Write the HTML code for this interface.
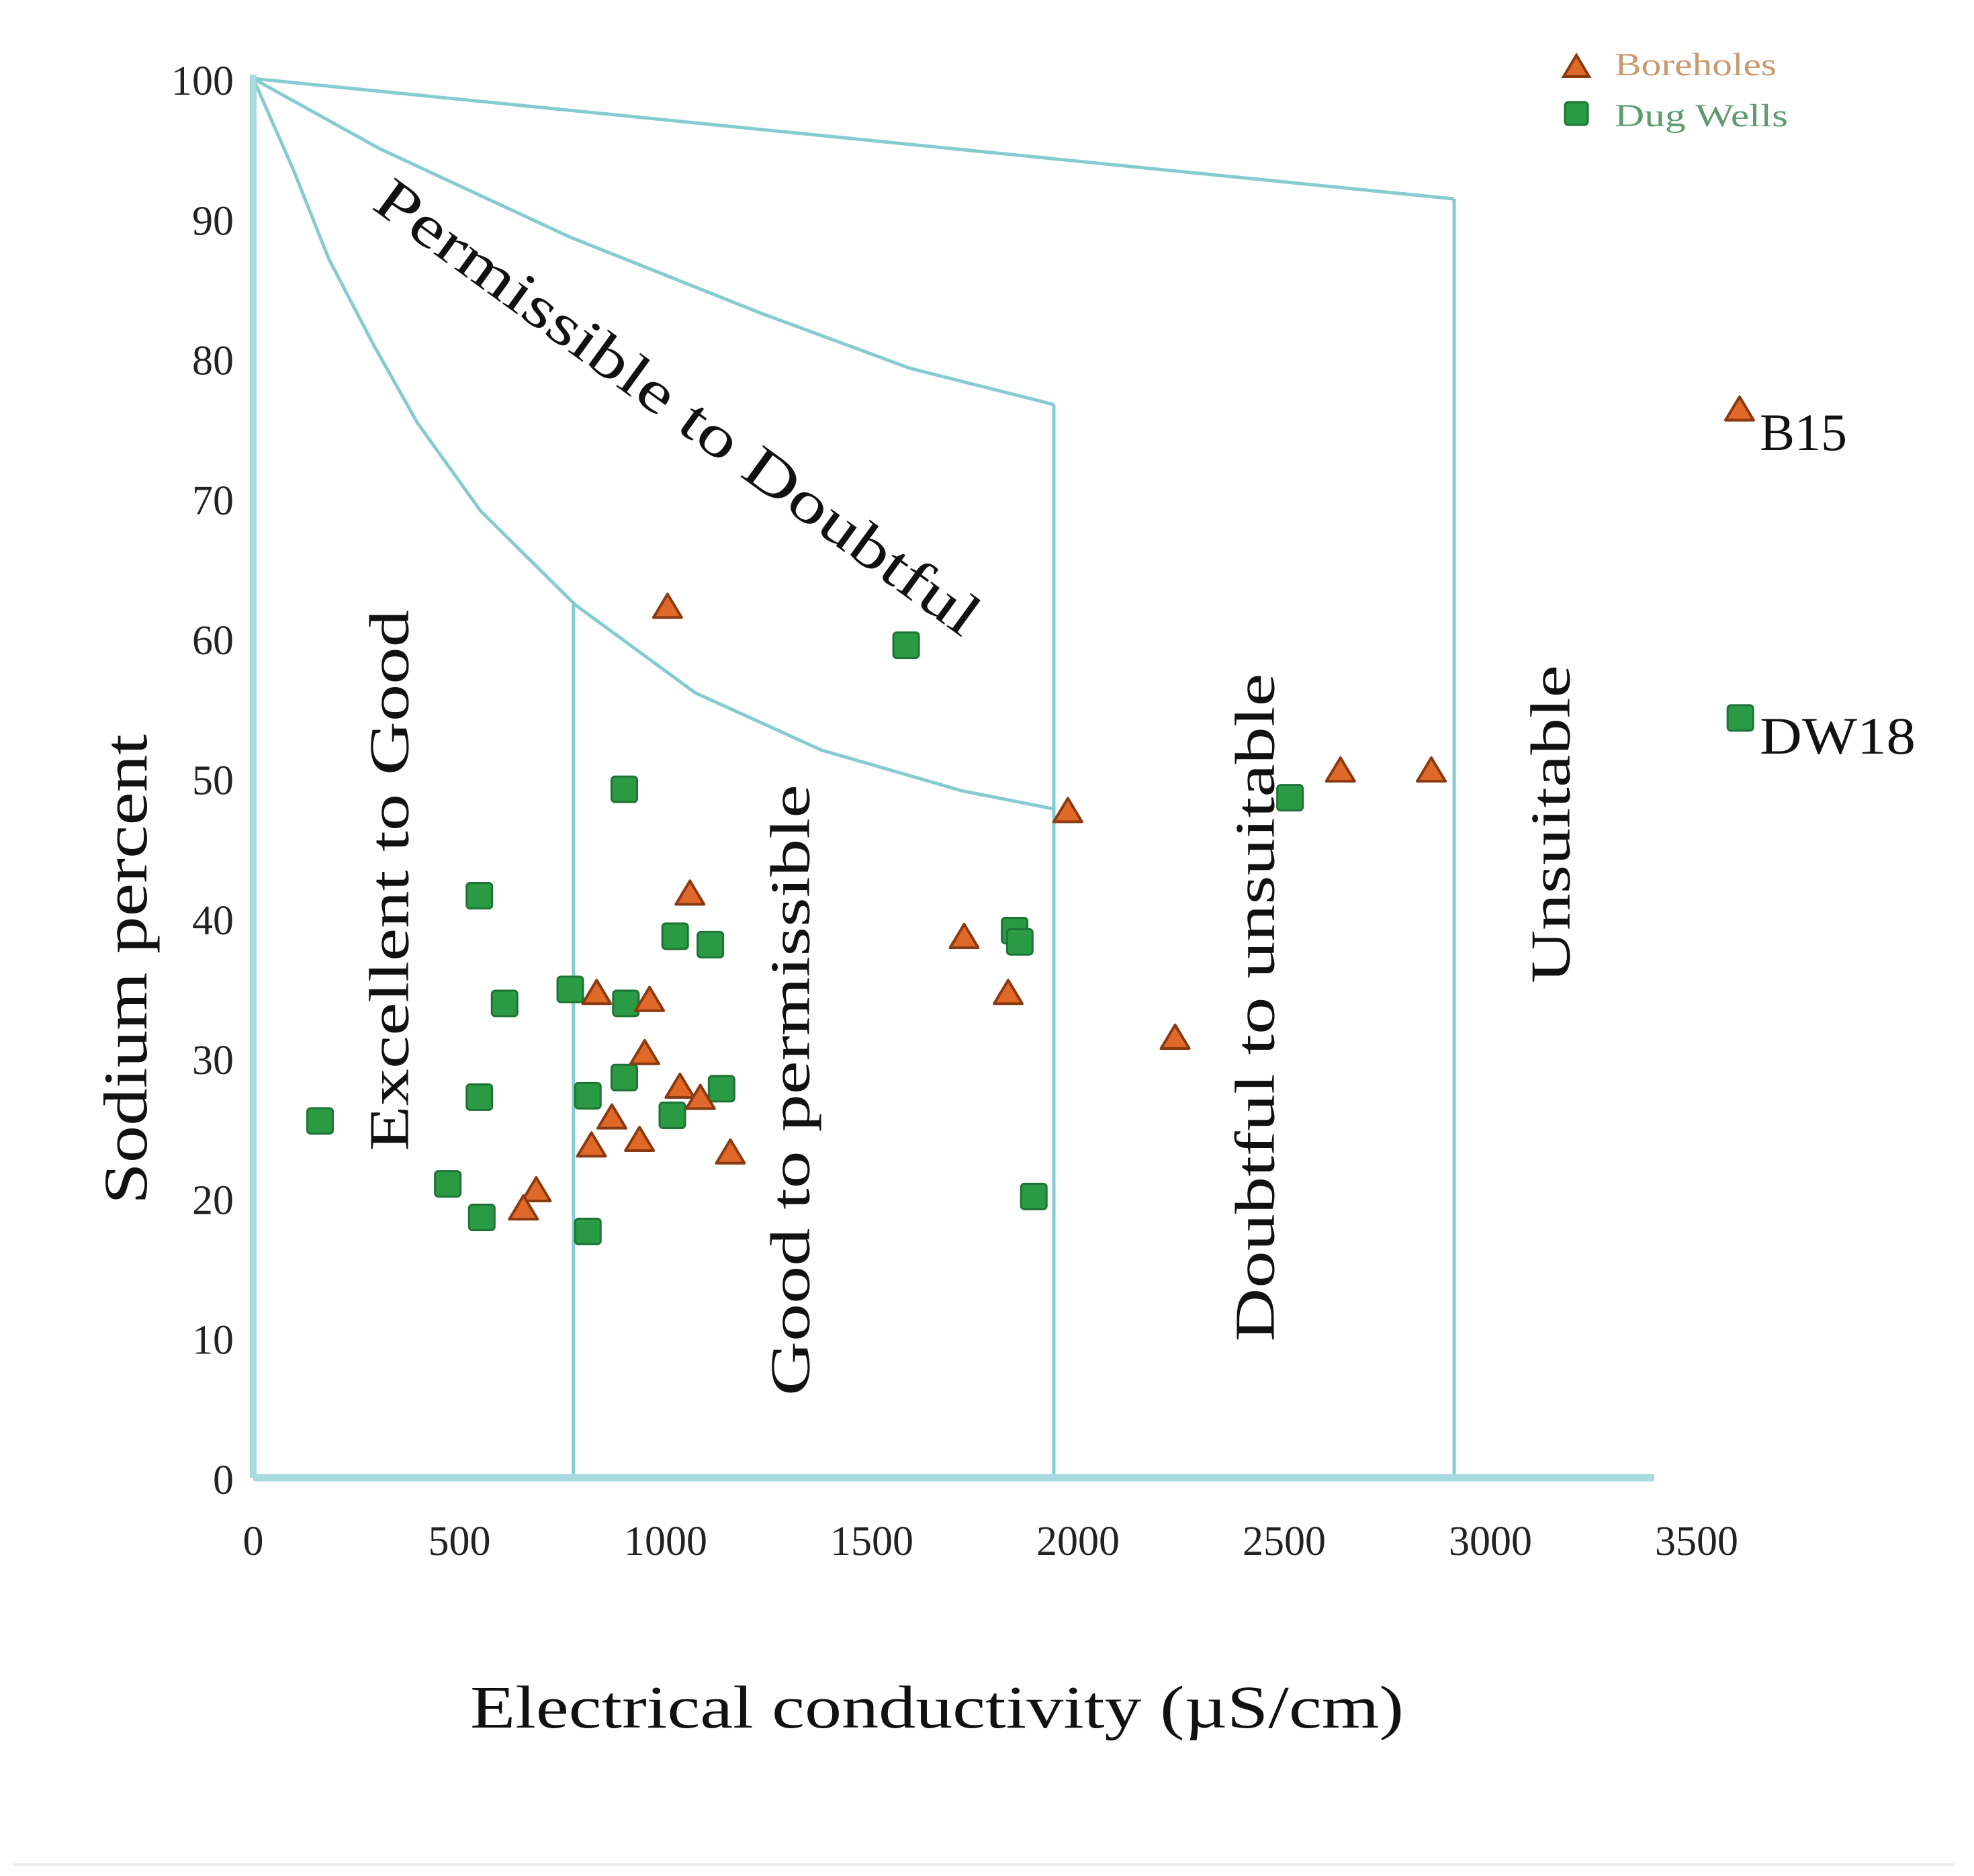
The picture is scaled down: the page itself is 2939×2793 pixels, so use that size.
<!DOCTYPE html>
<html><head><meta charset="utf-8"><style>
html,body{margin:0;padding:0;background:#fff;}
svg{display:block;}
text{font-family:"Liberation Serif",serif;}
</style></head><body>
<svg id="chart" width="2939" height="2793" viewBox="0 0 2939 2793" xmlns="http://www.w3.org/2000/svg">
<g id="regions"></g>
<g id="axes"></g>
<g id="marks"></g>
<g id="labels" fill="#111">
 <text transform="translate(218,1443) rotate(-90)" text-anchor="middle" font-size="92" textLength="700" lengthAdjust="spacingAndGlyphs">Sodium percent</text>
 <text x="1395" y="2572" text-anchor="middle" font-size="90" textLength="1390" lengthAdjust="spacingAndGlyphs">Electrical conductivity (µS/cm)</text>
 <text transform="translate(1004,613) rotate(36)" text-anchor="middle" dominant-baseline="middle" font-size="88" textLength="1090" lengthAdjust="spacingAndGlyphs">Permissible to Doubtful</text>
 <text transform="translate(588,1311) rotate(-90)" text-anchor="middle" dominant-baseline="middle" font-size="84" textLength="806" lengthAdjust="spacingAndGlyphs">Excellent to Good</text>
 <text transform="translate(1185,1623) rotate(-90)" text-anchor="middle" dominant-baseline="middle" font-size="84" textLength="910" lengthAdjust="spacingAndGlyphs">Good to permissible</text>
 <text transform="translate(1877,1500) rotate(-90)" text-anchor="middle" dominant-baseline="middle" font-size="84" textLength="995" lengthAdjust="spacingAndGlyphs">Doubtful to unsuitable</text>
 <text transform="translate(2317,1227) rotate(-90)" text-anchor="middle" dominant-baseline="middle" font-size="84" textLength="474" lengthAdjust="spacingAndGlyphs">Unsuitable</text>
 <text x="2620" y="670" font-size="78">B15</text>
 <text x="2620" y="1122" font-size="78" textLength="232" lengthAdjust="spacingAndGlyphs">DW18</text>
</g>
<g id="legend">
 <polygon points="2347,82 2366,114 2328,114" fill="#e0692a" stroke="#8b3a10" stroke-width="4"/>
 <text x="2404" y="112" font-size="48" fill="#c99a70" textLength="241" lengthAdjust="spacingAndGlyphs">Boreholes</text>
 <rect x="2330" y="152" width="34" height="34" rx="5" fill="#2a9a45" stroke="#1d7434" stroke-width="3"/>
 <text x="2404" y="188" font-size="48" fill="#5f9a70" textLength="258" lengthAdjust="spacingAndGlyphs">Dug Wells</text>
</g>
<line x1="20" y1="2776" x2="2910" y2="2776" stroke="#eeeeee" stroke-width="4"/>
</svg>
<script>
// data
const xTicks = [0, 500, 1000, 1500, 2000, 2500, 3000, 3500];
const yTicks = [0, 10, 20, 30, 40, 50, 60, 70, 80, 90, 100];
const boreholeEC = [1035, 1091, 1776, 1886, 2035, 2716, 2943, 2303, 858, 990, 978, 1066, 1117, 896, 845, 965, 1192, 707, 675, 3713];
const boreholeNa = [62.2, 41.7, 38.6, 34.6, 47.6, 50.5, 50.5, 31.4, 34.6, 34.1, 30.3, 27.9, 27.1, 25.7, 23.7, 24.1, 23.2, 20.5, 19.2, 76.3];
const dugWellEC = [167, 565, 628, 565, 486, 571, 792, 836, 836, 927, 931, 927, 1054, 1047, 1142, 1170, 1631, 1902, 1915, 1950, 2590, 3715];
const dugWellNa = [25.5, 41.6, 33.9, 27.2, 21.0, 18.6, 34.9, 27.3, 17.6, 49.2, 33.9, 28.6, 38.7, 25.9, 38.1, 27.8, 59.5, 39.1, 38.3, 20.1, 48.6, 54.3];
const curve1EC = [0, 100, 189, 300, 410, 568, 804, 1104, 1420, 1770, 2000];
const curve1Na = [100, 93.5, 87.1, 81, 75.4, 69.1, 62.4, 56.1, 52.0, 49.1, 47.8];
const curve2EC = [0, 315, 789, 1262, 1640, 2000];
const curve2Na = [100, 95, 88.7, 83.3, 79.3, 76.7];
const line3EC = [0, 3000];
const line3Na = [100, 91.4];
const dividerEC = [800, 2000, 3000];

const X = v => 377 + v * 0.596;
const Y = v => 2200 - v * 20.83;
const NS = 'http://www.w3.org/2000/svg';
function mk(tag, parent, attrs) {
  const e = document.createElementNS(NS, tag);
  for (const k in attrs) e.setAttribute(k, attrs[k]);
  parent.appendChild(e);
  return e;
}
const regions = document.getElementById('regions');
const axes = document.getElementById('axes');
const marks = document.getElementById('marks');
const LC = '#86cbd0';

function poly(xs, ys, name) {
  const el = mk('polyline', regions, {points: xs.map((v, i) => X(v) + ',' + Y(ys[i])).join(' '), fill: 'none', stroke: LC, 'stroke-width': 5, 'stroke-linejoin': 'round'});
  
  
}
poly(curve1EC, curve1Na, 'excellent-good-boundary-curve');
poly(curve2EC, curve2Na, 'permissible-doubtful-boundary-curve');
poly(line3EC, line3Na, 'doubtful-unsuitable-boundary-line');
function interp(xs, ys, x) {
  for (let i = 1; i < xs.length; i++) if (x <= xs[i]) { const t = (x - xs[i-1]) / (xs[i] - xs[i-1]); return ys[i-1] + t * (ys[i] - ys[i-1]); }
  return ys[ys.length - 1];
}
const topVals = [interp(curve1EC, curve1Na, dividerEC[0]), interp(curve2EC, curve2Na, dividerEC[1]), interp(line3EC, line3Na, dividerEC[2])];
dividerEC.forEach((d, i) => {
  const el = mk('line', regions, {x1: X(d), x2: X(d), y1: Y(topVals[i]), y2: Y(0), stroke: LC, 'stroke-width': 5});
  
  
});

const ya = mk('line', axes, {x1: X(0), x2: X(0), y1: Y(100) - 6, y2: Y(0), stroke: '#a8dbe0', 'stroke-width': 10});


const xa = mk('line', axes, {x1: X(0), x2: X(3500), y1: Y(0), y2: Y(0), stroke: '#a8dbe0', 'stroke-width': 11});


yTicks.forEach(v => {
  const t = mk('text', axes, {x: 348, y: Y(v) + 24, 'text-anchor': 'end', 'font-size': 62, fill: '#222'});
  t.textContent = v;
  
  
});
xTicks.forEach((v, i) => {
  const t = mk('text', axes, {x: X(v) + i * 9, y: 2315, 'text-anchor': 'middle', 'font-size': 62, fill: '#222'});
  t.textContent = v;
  
  
});

dugWellEC.forEach((v, i) => {
  const cx = X(v), cy = Y(dugWellNa[i]);
  const r = mk('rect', marks, {x: cx - 19, y: cy - 19, width: 38, height: 38, rx: 5, fill: '#2a9a45', stroke: '#1d7434', 'stroke-width': 3});
  
  
});
boreholeEC.forEach((v, i) => {
  const cx = X(v), cy = Y(boreholeNa[i]);
  const p = mk('polygon', marks, {points: `${cx},${cy - 20} ${cx + 21},${cy + 15} ${cx - 21},${cy + 15}`, fill: '#e0692a', stroke: '#8b3a10', 'stroke-width': 4, 'stroke-linejoin': 'round'});
  
  
});
</script>
</body></html>
